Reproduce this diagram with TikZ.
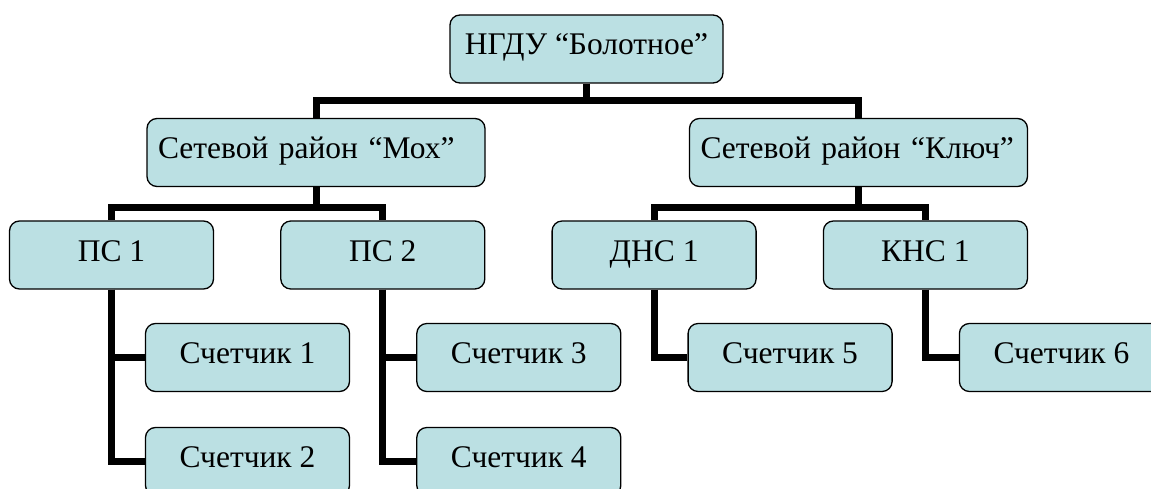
\documentclass[tikz,border=0pt]{standalone}
\usepackage{fontspec}
\setmainfont{Liberation Serif}
\usetikzlibrary{positioning}
\definecolor{boxblue}{RGB}{187,224,227}

\begin{document}
\begin{tikzpicture}[x=1pt,y=-1pt,node distance=271.3pt,
  main node/.style={draw,rounded corners=10pt,fill=boxblue,line width=1.3pt,
    minimum width=204pt,minimum height=68pt,text height=22pt,text depth=10pt,
    font=\fontsize{31.5}{38}\selectfont},
  wide node/.style={main node,inner xsep=11pt,text width=316pt,align=left},
  link/.style={line width=7pt}]

  \useasboundingbox (0,0) rectangle (1151,489);
  \clip (0,0) rectangle (1151,489);

  \node[main node,minimum width=273pt] (0) at (586.5,49) {НГДУ “Болотное”};
  \node[wide node] (1) at (316,152.5) {Сетевой район “Мох”};
  \node[wide node] (2) at (858.5,152.5) {Сетевой район “Ключ”};

  \node[main node] (3) at (111.5,255) {ПС 1};
  \node[main node] (4) [right of=3] {ПС 2};
  \node[main node] (5) [right of=4] {ДНС 1};
  \node[main node] (6) [right of=5] {КНС 1};

  \node[main node] (7) at (247.5,357.5) {Счетчик 1};
  \node[main node] (8) [below of=7,node distance=104pt] {Счетчик 2};
  \node[main node] (9) [right of=7] {Счетчик 3};
  \node[main node] (10) [below of=9,node distance=104pt] {Счетчик 4};
  \node[main node] (11) [right of=9] {Счетчик 5};
  \node[main node] (12) [right of=11] {Счетчик 6};

  \draw[link] (0.south) -- ++(0,16.5) -| (1.north);
  \draw[link] (0.south) -- ++(0,16.5) -| (2.north);
  \draw[link] (1.south) -- ++(0,20) -| (3.north);
  \draw[link] (1.south) -- ++(0,20) -| (4.north);
  \draw[link] (2.south) -- ++(0,20) -| (5.north);
  \draw[link] (2.south) -- ++(0,20) -| (6.north);

  \draw[link] (3.south) |- (7.west);
  \draw[link] (3.south) |- (8.west);
  \draw[link] (4.south) |- (9.west);
  \draw[link] (4.south) |- (10.west);
  \draw[link] (5.south) |- (11.west);
  \draw[link] (6.south) |- (12.west);
\end{tikzpicture}
\end{document}
